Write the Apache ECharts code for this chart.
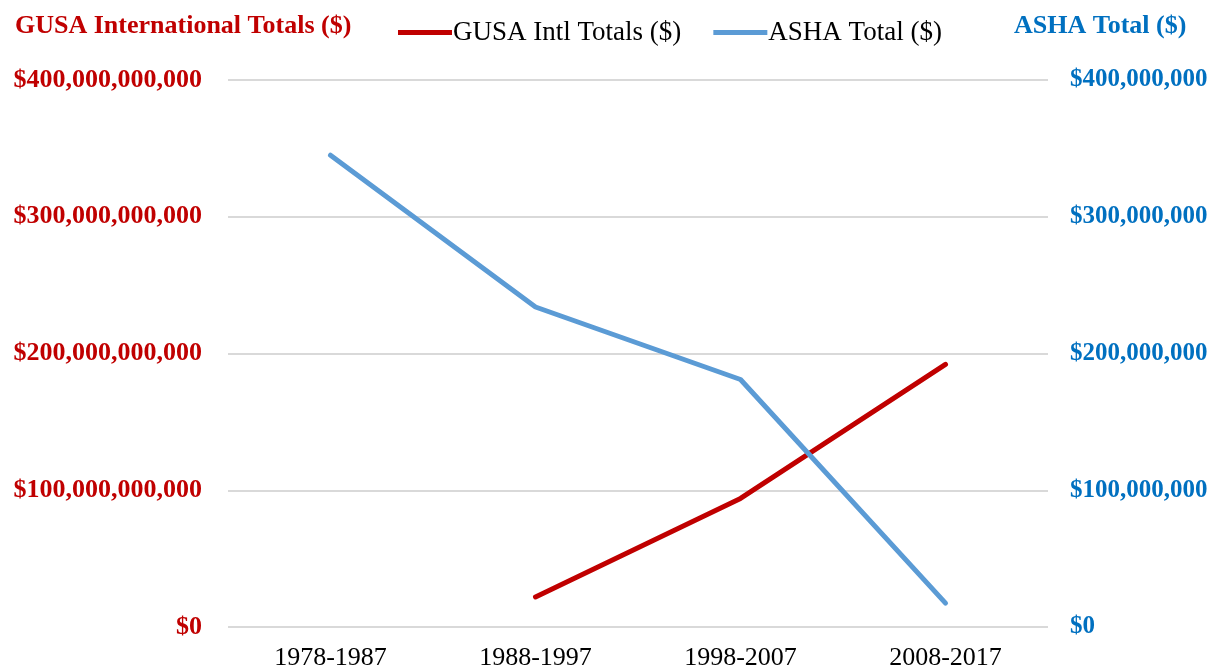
<!DOCTYPE html>
<html>
<head>
<meta charset="utf-8">
<script src="https://cdn.jsdelivr.net/npm/echarts@6/dist/echarts.min.js"></script>
<style>
  html, body { margin: 0; padding: 0; background: #fff; }
  #main { width: 1219px; height: 671px; }
</style>
</head>
<body>
<div id="main"></div>
<script>
var decades = ['1978-1987', '1988-1997', '1998-2007', '2008-2017'];
var gusaIntl = [null, 22000000000, 94000000000, 192000000000];
var ashaTotal = [345000000, 234000000, 181000000, 17500000];
var gusaTicks = [0, 100000000000, 200000000000, 300000000000, 400000000000];
var ashaTicks = [0, 100000000, 200000000, 300000000, 400000000];

var red = '#C00000';
var blue = '#0070C0';
var lightBlue = '#5B9BD5';
var serif = '"Liberation Serif", "Times New Roman", serif';

function money(v) {
    return '$' + Math.round(v).toString().replace(/\B(?=(\d{3})+(?!\d))/g, ',');
}

var chart = echarts.init(document.getElementById('main'));
var option = {
    backgroundColor: '#fff',
    animation: false,
    title: [
        {
            text: 'GUSA International Totals ($)',
            left: 10,
            top: 8,
            textStyle: { fontFamily: serif, fontSize: 26, fontWeight: 'bold', color: red }
        },
        {
            text: 'ASHA Total ($)',
            left: 1009,
            top: 8,
            textStyle: { fontFamily: serif, fontSize: 26, fontWeight: 'bold', color: blue }
        }
    ],
    legend: {
        top: 14,
        left: 393,
        itemWidth: 54,
        itemHeight: 5,
        itemGap: 32,
        icon: 'rect',
        textStyle: { fontFamily: serif, fontSize: 27, color: '#000', padding: [0, 0, 0, -4] },
        data: ['GUSA Intl Totals ($)', 'ASHA Total ($)']
    },
    grid: { left: 228, right: 171, top: 80, bottom: 42, containLabel: false },
    xAxis: {
        type: 'category',
        data: decades,
        boundaryGap: true,
        axisLine: { show: false },
        axisTick: { show: false },
        axisLabel: { fontFamily: serif, fontSize: 26, color: '#000', margin: 18 }
    },
    yAxis: [
        {
            type: 'value',
            min: gusaTicks[0],
            max: gusaTicks[gusaTicks.length - 1],
            interval: gusaTicks[1] - gusaTicks[0],
            axisLine: { show: false },
            axisTick: { show: false },
            splitLine: { lineStyle: { color: '#D9D9D9', width: 2 } },
            axisLabel: {
                fontFamily: serif, fontSize: 26, fontWeight: 'bold', color: red, margin: 26,
                formatter: money
            }
        },
        {
            type: 'value',
            position: 'right',
            min: ashaTicks[0],
            max: ashaTicks[ashaTicks.length - 1],
            interval: ashaTicks[1] - ashaTicks[0],
            axisLine: { show: false },
            axisTick: { show: false },
            splitLine: { show: false },
            axisLabel: {
                fontFamily: serif, fontSize: 25, fontWeight: 'bold', color: blue, margin: 22,
                formatter: money
            }
        }
    ],
    series: [
        {
            name: 'GUSA Intl Totals ($)',
            type: 'line',
            yAxisIndex: 0,
            data: gusaIntl,
            symbol: 'none',
            color: red,
            lineStyle: { width: 5, color: red, cap: 'round' }
        },
        {
            name: 'ASHA Total ($)',
            type: 'line',
            yAxisIndex: 1,
            data: ashaTotal,
            symbol: 'none',
            color: lightBlue,
            lineStyle: { width: 5, color: lightBlue, cap: 'round' }
        }
    ]
};
chart.setOption(option);
</script>
</body>
</html>
